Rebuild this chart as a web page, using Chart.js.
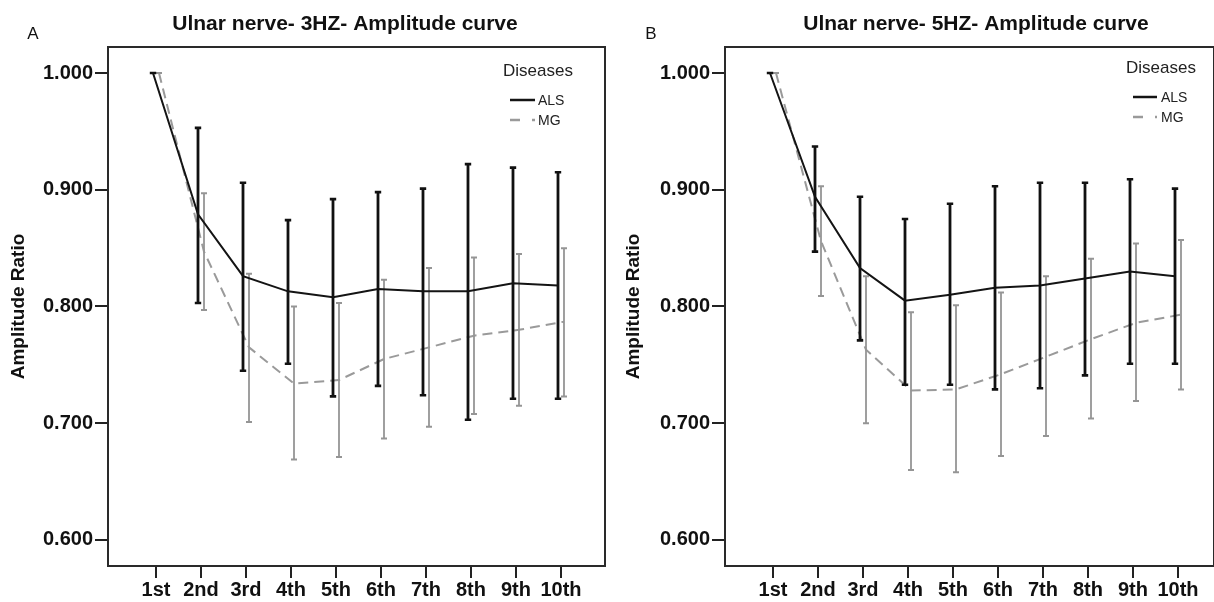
<!DOCTYPE html>
<html><head><meta charset="utf-8">
<script src="https://cdn.jsdelivr.net/npm/chart.js@4.4.0/dist/chart.umd.min.js"></script>
<style>
html,body{margin:0;padding:0;background:#fff;}
#wrap{position:relative;width:1214px;height:602px;overflow:hidden;background:#fff;}
.panel{position:absolute;top:0;width:607px;height:602px;}
canvas{display:block;}
</style></head><body>
<div id="wrap">
<div class="panel" style="left:0"><canvas id="cA" width="607" height="602"></canvas></div>
<div class="panel" style="left:607px"><canvas id="cB" width="607" height="602"></canvas></div>
</div>
<script>
// ---- data ----
const categories = ['1st','2nd','3rd','4th','5th','6th','7th','8th','9th','10th'];
const yTicks = [0.6, 0.7, 0.8, 0.9, 1.0];
const seriesNames = ['ALS', 'MG'];
const legendTitle = 'Diseases';
const yAxisTitle = 'Amplitude Ratio';
const titleA = 'Ulnar nerve- 3HZ- Amplitude curve';
const titleB = 'Ulnar nerve- 5HZ- Amplitude curve';

// Panel A (3HZ)
const alsMeanA = [1.000, 0.879, 0.826, 0.813, 0.808, 0.815, 0.813, 0.813, 0.820, 0.818];
const alsLowA  = [1.000, 0.803, 0.745, 0.751, 0.723, 0.732, 0.724, 0.703, 0.721, 0.721];
const alsHighA = [1.000, 0.953, 0.906, 0.874, 0.892, 0.898, 0.901, 0.922, 0.919, 0.915];
const mgMeanA  = [1.000, 0.847, 0.765, 0.734, 0.737, 0.755, 0.765, 0.775, 0.780, 0.787];
const mgLowA   = [1.000, 0.797, 0.701, 0.669, 0.671, 0.687, 0.697, 0.708, 0.715, 0.723];
const mgHighA  = [1.000, 0.897, 0.828, 0.800, 0.803, 0.823, 0.833, 0.842, 0.845, 0.850];

// Panel B (5HZ)
const alsMeanB = [1.000, 0.894, 0.833, 0.805, 0.810, 0.816, 0.818, 0.824, 0.830, 0.826];
const alsLowB  = [1.000, 0.847, 0.771, 0.733, 0.733, 0.729, 0.730, 0.741, 0.751, 0.751];
const alsHighB = [1.000, 0.937, 0.894, 0.875, 0.888, 0.903, 0.906, 0.906, 0.909, 0.901];
const mgMeanB  = [1.000, 0.856, 0.763, 0.728, 0.729, 0.742, 0.757, 0.772, 0.786, 0.793];
const mgLowB   = [1.000, 0.809, 0.700, 0.660, 0.658, 0.672, 0.689, 0.704, 0.719, 0.729];
const mgHighB  = [1.000, 0.903, 0.826, 0.795, 0.801, 0.812, 0.826, 0.841, 0.854, 0.857];

// ---- rendering ----
const FONT = "'Liberation Sans', Arial, Helvetica, sans-serif";
const TXT = '#111111';

const errorBarPlugin = {
  id: 'errorBars',
  afterDatasetDraw(chart, args) {
    const ds = chart.data.datasets[args.index];
    if (!ds.errLow) return;
    const xs = chart.scales.x, ys = chart.scales.y, ctx = chart.ctx;
    ctx.save();
    ctx.strokeStyle = ds.errColor;
    ctx.lineCap = 'butt';
    ds.data.forEach((p, i) => {
      const px = xs.getPixelForValue(p.x);
      const yl = ys.getPixelForValue(ds.errLow[i]);
      const yh = ys.getPixelForValue(ds.errHigh[i]);
      ctx.lineWidth = ds.errWidth;
      ctx.beginPath(); ctx.moveTo(px, yl); ctx.lineTo(px, yh); ctx.stroke();
      ctx.lineWidth = ds.capThick;
      const c = ds.capHalf;
      ctx.beginPath();
      ctx.moveTo(px - c, yl); ctx.lineTo(px + c, yl);
      ctx.moveTo(px - c, yh); ctx.lineTo(px + c, yh);
      ctx.stroke();
    });
    ctx.restore();
  }
};

const decorPlugin = {
  id: 'decor',
  afterDraw(chart, args, o) {
    const ctx = chart.ctx, a = chart.chartArea;
    ctx.save();
    // frame
    ctx.strokeStyle = '#2a2a2a';
    ctx.lineWidth = 2;
    ctx.strokeRect(a.left, a.top, a.right - a.left, a.bottom - a.top);
    // title
    ctx.fillStyle = TXT;
    ctx.textAlign = 'center';
    ctx.textBaseline = 'middle';
    ctx.font = 'bold 21px ' + FONT;
    ctx.fillText(o.title, o.titleX, o.titleY);
    // panel letter
    ctx.font = '17px ' + FONT;
    ctx.fillText(o.letter, o.letterX, o.letterY);
    // legend
    ctx.textAlign = 'left';
    ctx.fillStyle = '#222';
    ctx.font = '17px ' + FONT;
    ctx.fillText(legendTitle, o.legX, o.legTitleY);
    ctx.font = '14px ' + FONT;
    chart.data.datasets.forEach((ds, i) => {
      const y = o.legRows[i];
      ctx.strokeStyle = ds.borderColor;
      ctx.lineWidth = ds.borderWidth + 0.5;
      ctx.setLineDash(ds.legendDash || []);
      ctx.beginPath(); ctx.moveTo(o.sampleX0, y); ctx.lineTo(o.sampleX1, y); ctx.stroke();
      ctx.setLineDash([]);
      ctx.fillStyle = '#222';
      ctx.fillText(ds.label, o.textX, y + 1);
    });
    ctx.restore();
  }
};

function makeChart(id, d, p) {
  const off = 0.0667;
  const datasets = [
    {
      label: seriesNames[0],
      data: d.alsMean.map((v, i) => ({x: i - off, y: v})),
      errLow: d.alsLow, errHigh: d.alsHigh,
      borderColor: '#141414', borderWidth: 2, tension: 0,
      pointRadius: 0, fill: false,
      errColor: '#111111', errWidth: 2.8, capThick: 2.6, capHalf: 3.2
    },
    {
      label: seriesNames[1],
      data: d.mgMean.map((v, i) => ({x: i + off, y: v})),
      errLow: d.mgLow, errHigh: d.mgHigh,
      borderColor: '#9a9a9a', borderWidth: 2, borderDash: [10, 6], tension: 0,
      legendDash: [10, 12],
      pointRadius: 0, fill: false,
      errColor: '#959595', errWidth: 1.8, capThick: 2, capHalf: 3
    }
  ];
  const tickFont = {family: FONT, size: 20, weight: 'bold'};
  return new Chart(document.getElementById(id), {
    type: 'line',
    data: {datasets},
    plugins: [errorBarPlugin, decorPlugin],
    options: {
      responsive: false, animation: false, devicePixelRatio: 1,
      layout: {padding: {top: 47, right: p.padRight, left: 0, bottom: 0}},
      plugins: {
        legend: {display: false}, tooltip: {enabled: false},
        decor: p.decor
      },
      scales: {
        x: {
          type: 'linear', min: p.xMin, max: p.xMax,
          afterBuildTicks: s => { s.ticks = categories.map((c, i) => ({value: i})); },
          afterFit: s => { s.height = 36; },
          ticks: {
            callback: v => categories[Math.round(v)] ?? '',
            font: tickFont, color: TXT, padding: 0, maxRotation: 0, autoSkip: false
          },
          grid: {drawOnChartArea: false, drawTicks: true, tickLength: 12, color: '#222', lineWidth: 2},
          border: {display: false}
        },
        y: {
          type: 'linear', min: 0.5777, max: 1.0223,
          afterBuildTicks: s => { s.ticks = yTicks.map(v => ({value: v})); },
          afterFit: s => { s.width = p.yWidth; },
          ticks: {
            callback: v => Number(v).toFixed(3),
            font: tickFont, color: TXT, padding: 2
          },
          grid: {drawOnChartArea: false, drawTicks: true, tickLength: 13, color: '#222', lineWidth: 2},
          border: {display: false},
          title: {
            display: true, text: yAxisTitle, color: TXT,
            font: {family: FONT, size: 19, weight: 'bold'},
            padding: {top: p.yTitlePad, bottom: 0}
          }
        }
      }
    }
  });
}

makeChart('cA',
  {alsMean: alsMeanA, alsLow: alsLowA, alsHigh: alsHighA, mgMean: mgMeanA, mgLow: mgLowA, mgHigh: mgHighA},
  {padRight: 2, xMin: -1.0667, xMax: 9.978, yWidth: 108, yTitlePad: 7,
   decor: {title: titleA, titleX: 345, titleY: 24, letter: 'A', letterX: 33, letterY: 34,
           legX: 503, legTitleY: 71, legRows: [100, 120], sampleX0: 510, sampleX1: 535, textX: 538}});

makeChart('cB',
  {alsMean: alsMeanB, alsLow: alsLowB, alsHigh: alsHighB, mgMean: mgMeanB, mgLow: mgLowB, mgHigh: mgHighB},
  {padRight: 0, xMin: -1.0667, xMax: 9.80, yWidth: 118, yTitlePad: 15,
   decor: {title: titleB, titleX: 369, titleY: 24, letter: 'B', letterX: 44, letterY: 34,
           legX: 519, legTitleY: 68, legRows: [97, 117], sampleX0: 526, sampleX1: 550, textX: 554}});
</script>
</body></html>
